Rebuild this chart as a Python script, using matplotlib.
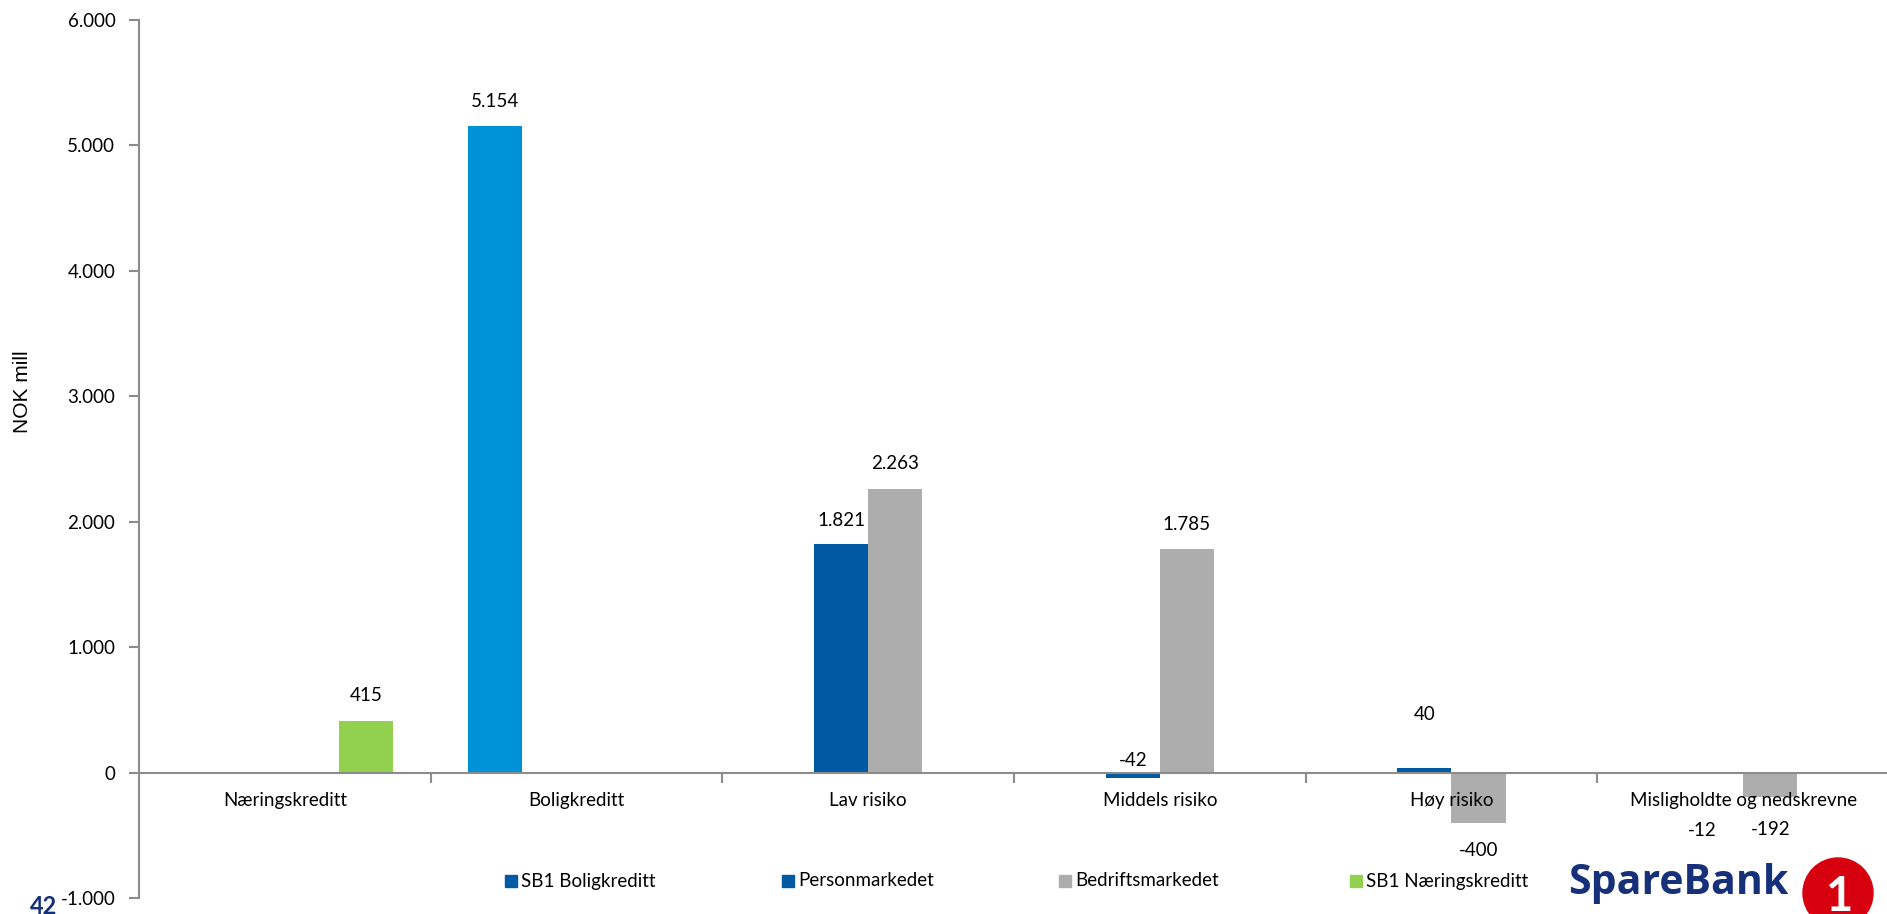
import matplotlib.pyplot as plt
from matplotlib.patches import Circle, Rectangle

categories = ["Næringskreditt", "Boligkreditt", "Lav risiko", "Middels risiko",
              "Høy risiko", "Misligholdte og nedskrevne"]
series_names = ["SB1 Boligkreditt", "Personmarkedet", "Bedriftsmarkedet", "SB1 Næringskreditt"]
# None = no bar in that group
boligkreditt = [None, 5154, None, None, None, None]
personmarkedet = [None, None, 1821, -42, 40, -12]
bedriftsmarkedet = [None, None, 2263, 1785, -400, -192]
naeringskreditt = [415, None, None, None, None, None]
yticks = [-1000, 0, 1000, 2000, 3000, 4000, 5000, 6000]
ytick_labels = ["-1.000", "0", "1.000", "2.000", "3.000", "4.000", "5.000", "6.000"]

colors = ["#0092D6", "#005AA3", "#ADADAD", "#92D050"]
legend_colors = ["#005AA3", "#005AA3", "#ADADAD", "#92D050"]

# label offsets in pixels (x, y) per series/group, mimicking the original placement
label_offsets = {
    (0, 1): (0, 25),
    (1, 2): (0, 24), (1, 3): (0, 17), (1, 4): (0, 53), (1, 5): (-14, -56),
    (2, 2): (0, 25), (2, 3): (0, 24), (2, 4): (0, -28), (2, 5): (0, -33),
    (3, 0): (0, 25),
}

plt.rcParams['font.family'] = ['Lato', 'DejaVu Sans']

W, H = 1887, 914
fig = plt.figure(figsize=(W / 100, H / 100), dpi=100)
ax = fig.add_axes([139 / W, 16 / H, 1750 / W, 878 / H])

for side in ['top', 'right']:
    ax.spines[side].set_visible(False)
ax.spines['left'].set_color('#8C8C8C')
ax.spines['left'].set_linewidth(1.5)
ax.spines['bottom'].set_position(('data', 0))
ax.spines['bottom'].set_color('#8C8C8C')
ax.spines['bottom'].set_linewidth(1.5)

bw = 0.1857
all_series = [boligkreditt, personmarkedet, bedriftsmarkedet, naeringskreditt]
for s, vals in enumerate(all_series):
    off = (s - 1.5) * bw
    for g, v in enumerate(vals):
        if v is None:
            continue
        ax.bar(g + off, v, width=bw, color=colors[s], linewidth=0)
        dx, dy = label_offsets[(s, g)]
        ax.annotate(f"{v:,}".replace(",", "."), (g + off, v), xytext=(dx, dy),
                    textcoords='offset pixels', ha='center', va='center',
                    fontsize=13.5, color='black')

ax.set_xlim(-0.5, 5.5)
ax.set_ylim(-1000, 6000)
ax.set_yticks(yticks)
ax.set_yticklabels(ytick_labels)

ax.set_xticks(range(len(categories)))
ax.set_xticklabels(categories)
ax.set_xticks([0.5 + i for i in range(5)], minor=True)
ax.tick_params(axis='x', which='major', length=0, pad=14, labelsize=13.5)
ax.tick_params(axis='x', which='minor', length=7, color='#8C8C8C', width=1.5, direction='out')
ax.tick_params(axis='y', length=7, color='#8C8C8C', width=1.5, pad=10, labelsize=13.5)

fig.text(22 / W, 1 - 392 / H, "NOK mill", rotation=90, ha='center', va='center',
         fontsize=15, family='Liberation Sans')

# legend, laid out like the original (one entry every ~277 px)
leg_x = [505, 782, 1059, 1350]
leg_y = 881
for name, c, x in zip(series_names, legend_colors, leg_x):
    fig.patches.append(Rectangle((x / W, 1 - (leg_y + 6) / H), 12 / W, 12 / H,
                                 transform=fig.transFigure, color=c))
    fig.text((x + 16) / W, 1 - leg_y / H, name, fontsize=13.5, ha='left', va='center')

# page number and logo
fig.text(30 / W, 1 - 906 / H, "42", fontsize=17, fontweight='bold', color='#17307A',
         ha='left', va='center')
fig.text(1568 / W, 1 - 884 / H, "SpareBank", fontsize=29.5, fontweight='bold',
         color='#17307A', ha='left', va='center', family='Open Sans')
fig.text(1630 / W, 1 - 922 / H, "NORD-NORGE", fontsize=13, fontweight='bold',
         color='#17307A', ha='left', va='center', family='Open Sans')
circle = Circle((1838 / 100, (H - 893) / 100), 0.35, transform=fig.dpi_scale_trans,
                color='#D7000F', zorder=5)
fig.patches.append(circle)
fig.text(1840 / W, 1 - 897 / H, "1", fontsize=34, fontweight='bold', color='white',
         ha='center', va='center', zorder=6)

fig.savefig("out.png", dpi=100)
